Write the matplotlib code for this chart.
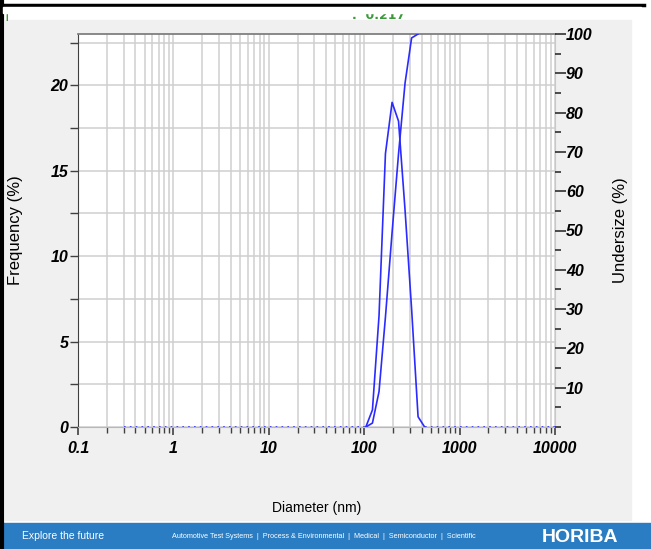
from __future__ import annotations

import matplotlib
matplotlib.use("Agg")
import matplotlib.pyplot as plt
from matplotlib.patches import Rectangle
from matplotlib.lines import Line2D
from matplotlib.ticker import FixedLocator, LogLocator, NullFormatter

# frequency distribution (diameter nm -> %)
freq_diam = [104, 122, 143, 167, 196, 229, 268, 314, 367, 430]
freq_vals = [0.0, 1.0, 6.5, 16.0, 19.0, 17.9, 12.7, 6.9, 0.6, 0.0]

# cumulative undersize (diameter nm -> %)
under_diam = [104, 122, 143, 167, 196, 229, 268, 314, 367]
under_vals = [0.0, 1.0, 9.0, 28.0, 49.5, 69.5, 87.5, 99.0, 100.0]

# zero baseline outside the measured range
zero_left = [0.3, 104]
zero_right = [430, 10000]

x_ticks = [0.1, 1, 10, 100, 1000, 10000]
x_labels = ["0.1", "1", "10", "100", "1000", "10000"]
freq_ticks = [0, 5, 10, 15, 20]
under_ticks = [10, 20, 30, 40, 50, 60, 70, 80, 90, 100]

BLUE = "#2b2bff"
GRID = "#cfcfcf"
TICK_FONT = dict(family=["Liberation Sans Narrow", "Liberation Sans", "DejaVu Sans"],
                 weight="bold", style="italic", size=11.5)


def main() -> None:
    fig = plt.figure(figsize=(6.51, 5.49), dpi=100)
    fig.patch.set_facecolor("white")

    # grey report panel, blue footer, black frame
    fig.patches.append(Rectangle((5 / 651, 29 / 549), 626 / 651, 500 / 549,
                                 transform=fig.transFigure, color="#f0f0f0", zorder=-2))
    fig.patches.append(Rectangle((0, 0), 1, 26 / 549, transform=fig.transFigure,
                                 color="#2a7dc3", zorder=-2))
    fig.lines.append(Line2D([0, 0.99], [1 - 5 / 549] * 2, transform=fig.transFigure,
                            color="black", lw=2.5))
    fig.lines.append(Line2D([1.5 / 651] * 2, [0, 1], transform=fig.transFigure,
                            color="black", lw=3))

    # clipped text from the previous page section
    fig.text(5 / 651, 1 - 18 / 549, "| '", color="#3a9a3a", fontsize=9, weight="bold")
    fig.text(352 / 651, 1 - 19 / 549, ".  0.217", color="#3a9a3a", fontsize=9, weight="bold")
    fig.patches.append(Rectangle((0.005, 1 - 13 / 549), 0.98, 6 / 549,
                                 transform=fig.transFigure, color="white", zorder=5))

    ax = fig.add_axes([78 / 651, 1 - 427 / 549, 477 / 651, 393 / 549])
    ax.set_xscale("log")
    ax.set_xlim(0.1, 10000)
    ax.set_ylim(0, 23)
    ax.set_facecolor("white")

    ax.xaxis.set_major_locator(FixedLocator(x_ticks))
    ax.xaxis.set_minor_locator(LogLocator(base=10, subs=range(2, 10), numticks=20))
    ax.xaxis.set_minor_formatter(NullFormatter())
    ax.set_xticks(x_ticks)
    ax.set_xticklabels(x_labels, fontdict=TICK_FONT)
    ax.set_yticks(freq_ticks)
    ax.set_yticklabels([str(v) for v in freq_ticks], fontdict=TICK_FONT)
    ax.yaxis.set_minor_locator(FixedLocator([2.5, 7.5, 12.5, 17.5, 22.5]))

    ax.grid(True, which="both", axis="x", color=GRID, lw=1.1)
    ax.grid(True, which="both", axis="y", color=GRID, lw=1.1)
    ax.set_axisbelow(True)

    ax.tick_params(axis="x", which="major", direction="out", length=6, width=1.2,
                   color="#404040", pad=4)
    ax.tick_params(axis="x", which="minor", direction="out", length=4, width=1,
                   color="#404040")
    ax.tick_params(axis="y", which="major", direction="out", length=6, width=1,
                   color="#404040", pad=1)
    ax.tick_params(axis="y", which="minor", direction="out", length=6, width=1,
                   color="#404040")

    ax.spines["left"].set_color("#404040")
    ax.spines["top"].set_color("#808080")
    ax.spines["top"].set_linewidth(1.3)
    ax.spines["bottom"].set_color("#b8b8b8")
    ax.spines["right"].set_color("#c8c8c8")

    ax.plot(zero_left, [0, 0], color=BLUE, lw=1.2, ls=(0, (1, 2.5)), clip_on=False)
    ax.plot(zero_right, [0, 0], color=BLUE, lw=1.2, ls=(0, (1, 2.5)), clip_on=False)
    ax.plot(freq_diam, freq_vals, color=BLUE, lw=1.2)

    ax2 = ax.twinx()
    ax2.set_ylim(0, 100)
    ax2.set_yticks(under_ticks)
    ax2.set_yticklabels([str(v) for v in under_ticks], fontdict=TICK_FONT)
    ax2.yaxis.set_minor_locator(FixedLocator([0, 5, 15, 25, 35, 45, 55, 65, 75, 85, 95]))
    ax2.tick_params(axis="y", which="major", direction="out", length=8, width=1.1,
                    color="#202020", pad=0)
    ax2.tick_params(axis="y", which="minor", direction="out", length=4, width=1.1,
                    color="#202020")
    for side in ["left", "top", "bottom", "right"]:
        ax2.spines[side].set_visible(False)
    ax2.plot(under_diam, under_vals, color=BLUE, lw=1.2)

    label_font = ["Liberation Sans", "DejaVu Sans"]
    fig.text(16 / 651, 1 - 230 / 549, "Frequency (%)", rotation=90, ha="center",
             va="center", fontsize=12, family=label_font)
    fig.text(621 / 651, 1 - 230 / 549, "Undersize (%)", rotation=90, ha="center",
             va="center", fontsize=12, family=label_font)
    fig.text(317 / 651, 1 - 508 / 549, "Diameter (nm)", ha="center", va="center",
             fontsize=10, family=label_font)

    # footer
    fig.text(22 / 651, 13 / 549, "Explore the future", color="white", va="center",
             fontsize=7.5, family=label_font)
    fig.text(324 / 651, 13 / 549,
             "Automotive Test Systems  |  Process & Environmental  |  Medical  |  "
             "Semiconductor  |  Scientific",
             color="white", ha="center", va="center", fontsize=5.2, family=label_font)
    fig.text(580 / 651, 12 / 549, "HORIBA", color="white", ha="center", va="center",
             fontsize=14, weight="bold", family=label_font)

    fig.savefig("out.png", dpi=100)
    plt.close(fig)


if __name__ == "__main__":
    main()
